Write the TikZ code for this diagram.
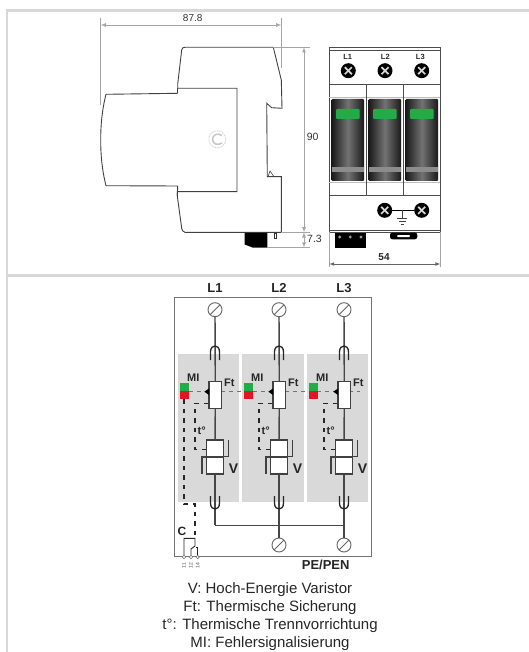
\documentclass[tikz,border=0pt]{standalone}
\usepackage{fontspec}
\setmainfont{Liberation Sans}
\usetikzlibrary{positioning}
\definecolor{myframe}{RGB}{216,216,216}
\definecolor{mydim}{RGB}{165,165,165}
\definecolor{myzone}{RGB}{217,217,217}
\definecolor{mygreen}{RGB}{34,172,72}
\definecolor{myred}{RGB}{230,20,35}
\definecolor{mywire}{RGB}{70,70,70}
\tikzset{
	dimline/.style = {draw=mydim, line width=0.8pt},
	dimtext/.style = {font=\fontsize{10}{12}\selectfont, text=black!80, inner sep=0pt},
	bold/.style = {font=\fontsize{13}{15}\selectfont\bfseries, text=black!85, inner sep=0pt},
	boldsmall/.style = {font=\fontsize{11}{13}\selectfont\bfseries, text=black!85, inner sep=0pt},
	housing/.style = {draw=black!75, line width=0.9pt},
	xscrew/.style = {circle, fill=black, minimum size=15pt, inner sep=0pt, path picture={
		\draw[white!85!black, line width=1.7pt] ([shift={(-3.5,-3.5)}]path picture bounding box.center) -- ([shift={(3.5,3.5)}]path picture bounding box.center);
		\draw[white!85!black, line width=1.7pt] ([shift={(-3.5,3.5)}]path picture bounding box.center) -- ([shift={(3.5,-3.5)}]path picture bounding box.center);}},
	clamp/.style = {circle, draw=black!60, fill=white, line width=0.9pt, minimum size=14pt, inner sep=0pt, path picture={
		\draw[black!60, line width=0.9pt] (path picture bounding box.south west) -- (path picture bounding box.north east);}},
	wire/.style = {draw=mywire, line width=1.4pt},
	fuse/.style = {draw=black!75, fill=white, line width=1.3pt, inner sep=0pt, minimum width=12.5pt, minimum height=26.5pt},
	varistor/.style = {draw=black!75, fill=white, line width=1.3pt, inner sep=0pt, minimum width=17.5pt, minimum height=34pt},
	sigdash/.style = {draw=black!55, line width=0.9pt, dash pattern=on 4pt off 4pt},
	ctldash/.style = {draw=black!85, line width=1.1pt, dash pattern=on 4.5pt off 5pt},
	port/.style = {circle, draw=black!55, fill=white, line width=0.6pt, minimum size=3.4pt, inner sep=0pt},
}
\begin{document}
\begin{tikzpicture}[x=1pt, y=-1pt]
\useasboundingbox (0,0) rectangle (529,652);

%----------FRAME-------------%
\draw[myframe, line width=2.6pt] (5.5,10.3) -- (529,10.3);
\draw[myframe, line width=2.6pt] (5.5,275.4) -- (529,275.4);
\draw[myframe, line width=2pt] (6.7,9) -- (6.7,652);

%----------SIDE VIEW-------------%
\draw[housing]
(185,47.3) -- (273.3,47.3) -- (281.3,80) -- (282,108.3) -- (271.7,107.7) -- (266.7,103.3)
-- (267.3,176.7) -- (281.3,176.7) -- (281.3,232.3) -- (185,232.3)
.. controls (183,232.3) and (182,230) .. (181.7,228.3) -- (177.3,196) -- (177.3,191.7) -- (180,191.7) -- (237,191.7)
-- (237,88.3) -- (180,88.3) -- (177.7,88.3) -- (177.7,84) -- (181.7,50)
.. controls (182,48) and (183,47.3) .. (185,47.3);
\draw[housing]
(177.7,93.3) -- (106,94.3) .. controls (102,110) and (100.7,125) .. (100.7,140)
.. controls (100.7,155) and (102,170) .. (106,185.7) -- (177.7,186) -- (177.3,196);
\draw[housing] (177.7,88.3) -- (177.7,93.3);
\draw[housing, line width=0.6pt] (268,176.7) -- (270,171) -- (274,176.7);
\fill[black] (244.7,232.8) -- (267.3,232.8) -- (267.3,247.7) -- (253,247.7) -- (244.7,244.5) -- cycle;
\draw[black!80, line width=0.6pt] (274.5,232.8) rectangle (276.5,238.7);

% logo
\draw[black!20, line width=0.8pt, dash pattern=on 1pt off 0.8pt] (217.3,139.3) circle (8.5);
\draw[black!22, line width=1.6pt] (222,135.5) .. controls (218,132.5) and (212.5,134.5) .. (212.5,139.3) .. controls (212.5,144) and (218,146) .. (222,143);

%----------DIMENSIONS-------------%
\coordinate (dimA) at (100.7,25);
\coordinate (dimB) at (281.3,25);
\draw[dimline] (100.7,18) -- (100.7,105);
\draw[dimline] (281.3,18) -- (281.3,68);
\draw[dimline, <->, >=latex] (dimA) -- (dimB);
\node[dimtext] (w878) at (192.7,18.3) {87.8};
\coordinate (dimC) at (304,47.3);
\coordinate (dimD) at (304,232.3);
\coordinate (dimE) at (304,247.5);
\draw[dimline] (273.3,47.3) -- (310,47.3);
\draw[dimline] (281.3,232.3) -- (310,232.3);
\draw[dimline] (267.3,247.5) -- (310,247.5);
\draw[dimline, <->, >=latex] (dimC) -- (dimD);
\draw[dimline, <->, >=latex] (dimD) -- (dimE);
\node[dimtext, font=\fontsize{10.5}{12}\selectfont] (h90) at (312.7,136.7) {90};
\node[dimtext, font=\fontsize{10.5}{12}\selectfont] (h73) at (314.5,238.7) {7.3};

%----------FRONT VIEW-------------%
\draw[black!70, line width=1pt] (329.3,47.3) rectangle (440.3,232.3);
\foreach \y/\w in {50.7/0.7,84/0.9,195.7/0.9,230/0.9}{
	\draw[black!70, line width=\w pt] (329.3,\y) -- (440.3,\y);
};
\foreach \y in {97.3,182.7}{
	\draw[black!25, line width=0.8pt] (329.3,\y) -- (440.3,\y);
};
\foreach \x in {366.3,403.3}{
	\draw[black!70, line width=0.8pt] (\x,84) -- (\x,195.7);
};
\foreach \a/\x/\lx in {1/331.7/347.7,2/368.7/385.3,3/405.7/420.3}{
	\shade[left color=black!90, right color=black!90, middle color=black!55, rounded corners=1pt] (\x,99) rectangle (\x+32.3,181);
	\fill[black!45] (\x,167.3) rectangle (\x+32.3,171.7);
	\fill[mygreen, rounded corners=1pt] (\x+4.3,109) rectangle (\x+28,119);
	\node[boldsmall, font=\fontsize{7.5}{9}\selectfont\bfseries] (lab\a) at (\lx,56.7) {L\a};
};
\node[xscrew] (top1) at (348.3,70.7) {};
\node[xscrew] (top2) at (385,70.7) {};
\node[xscrew] (top3) at (421.7,70.7) {};
\node[xscrew] (pe1) at (384.7,210.3) {};
\node[xscrew] (pe2) at (421.7,210.3) {};
\draw[black, line width=1pt] (pe1) -- (pe2);

% earth symbol
\coordinate (earth) at (402.3,218.7);
\draw[black!75, line width=0.7pt] (402.3,210.3) -- (earth);
\draw[black!75, line width=0.7pt] (397.3,218.7) -- (407.3,218.7) (399,221.3) -- (405.6,221.3) (400.6,224) -- (404,224);

% terminals under the housing
\fill[black] (334.7,233.3) rectangle (366.3,248);
\foreach \x in {339.7,350.3,361}{
	\fill[black!40] (\x,237) circle (1.6);
};
\fill[black, rounded corners=2.5pt] (390,232.5) -- (417.3,232.5) -- (417.3,239.3) -- (390,239.3) -- cycle;
\fill[white, rounded corners=1pt] (397,235) rectangle (410,237.2);

\draw[dimline] (329.3,232.3) -- (329.3,267);
\draw[dimline] (440.3,232.3) -- (440.3,267);
\coordinate (dimF) at (329.3,264);
\coordinate (dimG) at (440.3,264);
\draw[draw=black!60, line width=0.7pt, <->, >=latex] (dimF) -- (dimG);
\node[boldsmall, font=\fontsize{10}{12}\selectfont\bfseries] (w54) at (384,257) {54};

%----------CIRCUIT-------------%
\fill[myzone] (177.7,353.7) rectangle (239,502.3);
\fill[myzone] (242.3,353.7) rectangle (303.7,502.3);
\fill[myzone] (307,353.7) rectangle (368.3,502.3);
\draw[black!55, line width=1pt] (174.3,297.3) rectangle (371.3,556.7);

\draw[sigdash] (189,391.7) -- (360,391.7);

\foreach \a/\x in {1/215,2/279,3/344}{
	\node[bold] (phase\a) at (\x,288.3) {L\a};
	\node[clamp] (in\a) at (\x,309.7) {};
	\node[fuse] (ft\a) at (\x+0.3,395) {};
	\node[varistor] (v\a) at (\x,457) {};
	\coordinate (bus\a) at (\x,525.3);
	\draw[wire] (in\a) -- (ft\a);
	\draw[wire] (ft\a) -- (v\a);
	\draw[wire] (v\a) -- (bus\a);
	\draw[black!75, line width=1.3pt] (v\a.west) -- (v\a.east);
	% inverted loop above, loop below
	\draw[black!85, line width=1.3pt] (\x-4.5,360) -- (\x-4.5,352) .. controls (\x-4.5,347.5) and (\x-2,346) .. (\x,346) .. controls (\x+2,346) and (\x+4.5,347.5) .. (\x+4.5,352) -- (\x+4.5,360);
	\draw[black!85, line width=1.3pt] (\x-4.5,496) -- (\x-4.5,503) .. controls (\x-4.5,507.5) and (\x-2,509) .. (\x,509) .. controls (\x+2,509) and (\x+4.5,507.5) .. (\x+4.5,503) -- (\x+4.5,496);
	% varistor hooks
	\draw[black!75, line width=1.3pt] (\x+13.3,440) -- (\x+13.3,456.5) -- (\x+9,456.5);
	\draw[black!75, line width=1.3pt] (\x-13,473.5) -- (\x-13,457) -- (\x-8.5,457);
	\fill[black] (\x-10.7,391.7) -- (\x-6,388.5) -- (\x-6,395) -- cycle;
	% thermal link
	\draw[ctldash] (ft\a.west |- 0,403.3) -- (\x-20,403.3) -- (\x-20,449.3) -- (v\a.west |- 0,449.3);
	\node[boldsmall] (t\a) at (\x-13.3,430.7) {t°};
	\fill[mygreen] (\x-35,382.7) rectangle (\x-26,391.3);
	\fill[myred] (\x-35,391.3) rectangle (\x-26,399.3);
	\node[boldsmall] (mi\a) at (\x-21.7,377.7) {MI};
	\node[boldsmall] (fu\a) at (\x+14.3,382.7) {Ft};
	\node[bold, font=\fontsize{14}{16}\selectfont\bfseries] (var\a) at (\x+18.5,468.3) {V};
};

\draw[wire] (bus1) -- (bus2) -- (bus3);
\node[clamp] (out2) at (279,545) {};
\node[clamp] (out3) at (344,545) {};
\draw[wire] (bus2) -- (out2);
\draw[wire] (bus3) -- (out3);
\node[bold] (pen) at (325.7,565.3) {PE/PEN};

%----------AUX CONTACT-------------%
\node[port] (p11) at (184,557) {};
\node[port] (p12) at (191,557) {};
\node[port] (p14) at (197.7,557) {};
\coordinate (ctop1) at (184,538.3);
\coordinate (ctop2) at (195,538.3);
\draw[ctldash] (184,399.3) -- (184,504) -- (195,504) -- (ctop2);
\draw[black!85, line width=0.9pt] (p11) -- (ctop1) -- (ctop2) -- (195,546) -- (191,549) -- (p12);
\draw[black!85, line width=0.9pt] (p14) -- (197.7,547) -- (195.8,547);
\node[bold, font=\fontsize{12}{14}\selectfont\bfseries] (cont) at (182,531.7) {C};
\foreach \n/\x in {11/184,12/191,14/197.7}{
	\node[rotate=90, inner sep=0pt, text=black!70, font=\fontsize{5}{5}\selectfont] (num\n) at (\x,565.5) {\n};
};

%----------LEGEND-------------%
\node[align=center, inner sep=0pt, text=black!85, font=\fontsize{15}{18}\selectfont, anchor=north] (legend) at (270,582.5)
{V: Hoch-Energie Varistor\\Ft: Thermische Sicherung\\t°: Thermische Trennvorrichtung\\MI: Fehlersignalisierung};

\end{tikzpicture}
\end{document}
